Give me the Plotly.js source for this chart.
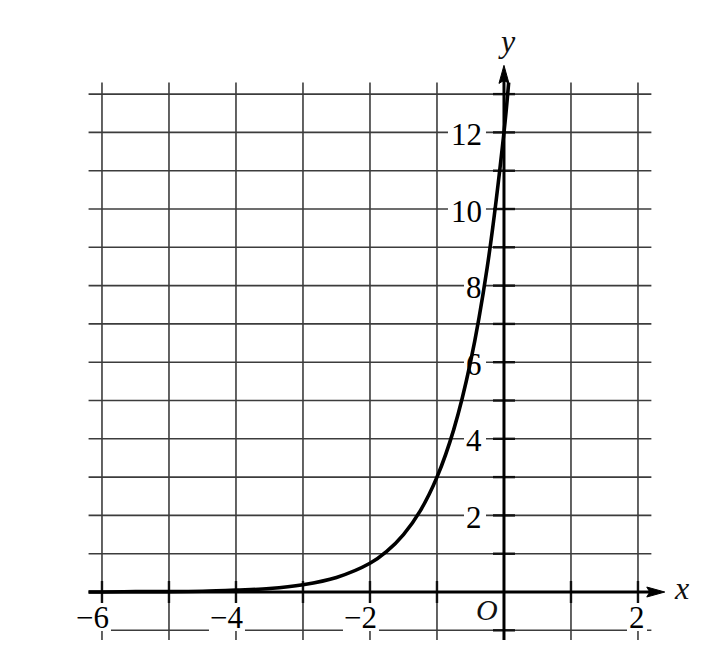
<!DOCTYPE html>
<html>
<head>
<meta charset="utf-8">
<script src="https://cdn.plot.ly/plotly-3.0.1.min.js"></script>
<style>
  html, body { margin: 0; padding: 0; background: #fff; }
  #chart { width: 722px; height: 660px; }
</style>
</head>
<body>
<div id="chart"></div>
<script>
// values
var curveX = [-6.2, -6, -5.5, -5, -4.5, -4, -3.5, -3, -2.5, -2, -1.75, -1.5, -1.25, -1, -0.75, -0.5, -0.25, 0, 0.07];
var curveY = [0.0, 0.0, 0.01, 0.01, 0.02, 0.05, 0.09, 0.19, 0.38, 0.75, 1.06, 1.5, 2.12, 3.0, 4.24, 6.0, 8.48, 12.0, 13.3];

var gridX = [-6, -5, -4, -3, -2, -1, 0, 1, 2];
var gridY = [-1, 0, 1, 2, 3, 4, 5, 6, 7, 8, 9, 10, 11, 12, 13];
var xTickVals = [-6, -4, -2, 2];
var xTickText = ['\u22126', '\u22124', '\u22122', '2'];
var yTickVals = [2, 4, 6, 8, 10, 12];
var yTickText = ['2', '4', '6', '8', '10', '12'];

var W = 722, H = 660;
var xr = [-7.522, 3.254];
var yr = [-1.775, 15.457];
var kx = W / (xr[1] - xr[0]);   // px per x unit
var ky = H / (yr[1] - yr[0]);   // px per y unit
function dx(p){ return p / kx; }
function dy(p){ return p / ky; }

var gridColor = '#3c3c3c';
var serif = "'Liberation Serif', 'Times New Roman', serif";
var shapes = [];
var annotations = [];

// grid
for (let i = 0; i < gridX.length; i++){
    if (gridX[i] == 0) continue;
    shapes.push({type: 'line', layer: 'below', x0: gridX[i], x1: gridX[i], y0: -1.25, y1: 13.3,
        line: {color: gridColor, width: 1.6}});
}
for (let i = 0; i < gridY.length; i++){
    if (gridY[i] == 0) continue;
    shapes.push({type: 'line', layer: 'below', x0: -6.2, x1: 2.2, y0: gridY[i], y1: gridY[i],
        line: {color: gridColor, width: 1.6}});
}

// white boxes behind tick labels, so grid lines break there
var xLabY = -dy(25);
for (let i = 0; i < xTickVals.length; i++){
    var w = xTickText[i].length * 16 + 4;
    shapes.push({type: 'rect', layer: 'below', x0: xTickVals[i] + dx(9) - dx(w), x1: xTickVals[i] + dx(9),
        y0: xLabY - dy(14), y1: xLabY + dy(14), fillcolor: '#fff', line: {width: 0}});
    annotations.push({x: xTickVals[i] + dx(9), y: xLabY, xref: 'x', yref: 'y', text: xTickText[i],
        showarrow: false, xanchor: 'right', yanchor: 'middle',
        font: {family: serif, size: 31, color: '#000'}});
}
var yLabX = -dx(20);
for (let i = 0; i < yTickVals.length; i++){
    var w = yTickText[i].length * 16 + 4;
    shapes.push({type: 'rect', layer: 'below', x0: yLabX - dx(w), x1: yLabX + dx(2),
        y0: yTickVals[i] - dy(13), y1: yTickVals[i] + dy(13), fillcolor: '#fff', line: {width: 0}});
    annotations.push({x: yLabX, y: yTickVals[i], xref: 'x', yref: 'y', text: yTickText[i],
        showarrow: false, xanchor: 'right', yanchor: 'middle', yshift: -2,
        font: {family: serif, size: 31, color: '#000'}});
}

// darker tick marks across the axes
for (let i = 0; i < gridX.length; i++){
    if (gridX[i] == 0) continue;
    shapes.push({type: 'line', layer: 'below', x0: gridX[i], x1: gridX[i], y0: -dy(11), y1: dy(11),
        line: {color: '#111', width: 2.4}});
}
for (let i = 0; i < gridY.length; i++){
    if (gridY[i] == 0) continue;
    shapes.push({type: 'line', layer: 'below', x0: -dx(11), x1: dx(11), y0: gridY[i], y1: gridY[i],
        line: {color: '#111', width: 2.4}});
}

// axes with arrow heads
var xTip = 2.4, yTip = 13.75;
shapes.push({type: 'line', layer: 'below', x0: -6.2, x1: xTip - dx(8), y0: 0, y1: 0, line: {color: '#000', width: 3}});
shapes.push({type: 'line', layer: 'below', x0: 0, x1: 0, y0: -1.25, y1: yTip - dy(8), line: {color: '#000', width: 3}});
shapes.push({type: 'path', layer: 'above', fillcolor: '#000', line: {color: '#000', width: 1},
    path: 'M' + xTip + ',0 L' + (xTip - dx(18)) + ',' + dy(5) + ' L' + (xTip - dx(15)) + ',0 L' + (xTip - dx(18)) + ',' + (-dy(5)) + ' Z'});
shapes.push({type: 'path', layer: 'above', fillcolor: '#000', line: {color: '#000', width: 1},
    path: 'M0,' + yTip + ' L' + dx(5) + ',' + (yTip - dy(18)) + ' L0,' + (yTip - dy(15)) + ' L' + (-dx(5)) + ',' + (yTip - dy(18)) + ' Z'});

// axis names and origin
annotations.push({x: dx(682 - 504), y: 0, xref: 'x', yref: 'y', text: '<i>x</i>', showarrow: false,
    xanchor: 'center', yanchor: 'middle', yshift: 4, font: {family: serif, size: 32, color: '#111'}});
annotations.push({x: dx(3), y: yTip + dy(24), xref: 'x', yref: 'y', text: '<i>y</i>', showarrow: false,
    xanchor: 'center', yanchor: 'middle', font: {family: serif, size: 32, color: '#111'}});
annotations.push({x: -dx(17), y: -dy(17), xref: 'x', yref: 'y', text: '<i>O</i>', showarrow: false,
    xanchor: 'center', yanchor: 'middle', font: {family: serif, size: 30, color: '#111'}});

var trace1 = {
    type: 'scatter',
    mode: 'lines',
    x: curveX,
    y: curveY,
    line: {color: '#000', width: 3.6, shape: 'spline', smoothing: 1},
    hoverinfo: 'skip'
};

var layout = {
    width: W,
    height: H,
    margin: {l: 0, r: 0, t: 0, b: 0, pad: 0},
    paper_bgcolor: '#fff',
    plot_bgcolor: '#fff',
    showlegend: false,
    xaxis: {range: xr, visible: false, fixedrange: true},
    yaxis: {range: yr, visible: false, fixedrange: true},
    shapes: shapes,
    annotations: annotations
};

Plotly.newPlot('chart', [trace1], layout, {displayModeBar: false, staticPlot: true});
</script>
</body>
</html>
